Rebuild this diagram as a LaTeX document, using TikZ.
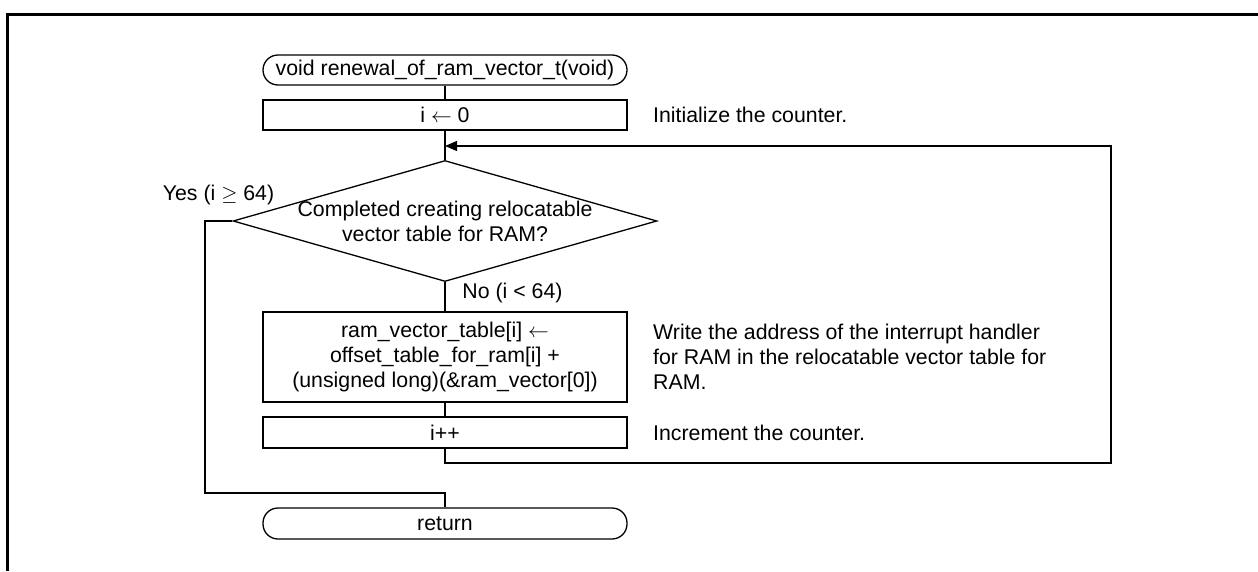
\documentclass[tikz,border=0pt]{standalone}
\usepackage{fontspec}
\setmainfont{Liberation Sans}
\usetikzlibrary{shapes.geometric,arrows.meta}

\tikzset{
  flowfont/.style={font=\fontsize{21.3pt}{25pt}\selectfont},
  terminal/.style={draw, line width=1.3pt, rounded corners=15pt, minimum width=364pt, minimum height=30pt, inner sep=0pt, flowfont},
  process/.style={draw, line width=1.3pt, minimum width=364pt, minimum height=30pt, inner sep=0pt, align=center, flowfont},
  decision/.style={draw, line width=1.3pt, diamond, aspect=3.5, inner xsep=-20pt, inner ysep=0pt, minimum width=424pt, minimum height=121pt, align=center, flowfont},
  note/.style={anchor=west, inner sep=0pt, align=left, flowfont},
  flow/.style={line width=1.2pt},
}

\begin{document}
\begin{tikzpicture}[x=1pt, y=-1pt, node distance=45pt]
    \useasboundingbox (0,0) rectangle (1258,571);
    \draw[line width=3pt] (7.5,571) -- (7.5,14.5) -- (1258,14.5);

    \node(Start) [terminal] at (445,70) {void renewal\_of\_ram\_vector\_t(void)};
    \node(Init) [process, below of=Start] {i $\leftarrow$ 0};
    \node(Done) [decision, below of=Init, node distance=106pt] {Completed creating relocatable\\vector table for RAM?};
    \node(Write) [process, below of=Done, node distance=136pt, minimum height=90pt] {ram\_vector\_table[i] $\leftarrow$\\offset\_table\_for\_ram[i] +\\(unsigned long)(\&ram\_vector[0])};
    \node(Incr) [process, below of=Write, node distance=75.5pt, minimum height=31pt] {i++};
    \node(Return) [terminal, below of=Incr, node distance=91pt, minimum height=31pt] {return};

    \node(InitNote) [right of=Init, node distance=208pt, note] {Initialize the counter.};
    \node(WriteNote) [right of=Write, node distance=208pt, note] {Write the address of the interrupt handler\\for RAM in the relocatable vector table for\\RAM.};
    \node(IncrNote) [right of=Incr, node distance=208pt, note] {Increment the counter.};

    \node(YesLabel) [flowfont, inner sep=0pt] at (218.5,195) {Yes (i $\geq$ 64)};
    \node(NoLabel) [flowfont, inner sep=0pt] at (512.5,293) {No (i < 64)};

    \coordinate(Merge) at (445,146);
    \coordinate(LoopCorner) at (1111,463);
    \coordinate(YesCorner) at (205,493);

    \draw[flow] (Start) -- (Init);
    \draw[flow] (Init) -- (Done);
    \draw[flow] (Done) -- (Write);
    \draw[flow] (Write) -- (Incr);
    \draw[flow, -{Triangle[length=12pt,width=10pt]}] (Incr.south) |- (LoopCorner) |- (Merge);
    \draw[flow] (Done.west) -| (YesCorner) -| (Return.north);
  \end{tikzpicture}
\end{document}
